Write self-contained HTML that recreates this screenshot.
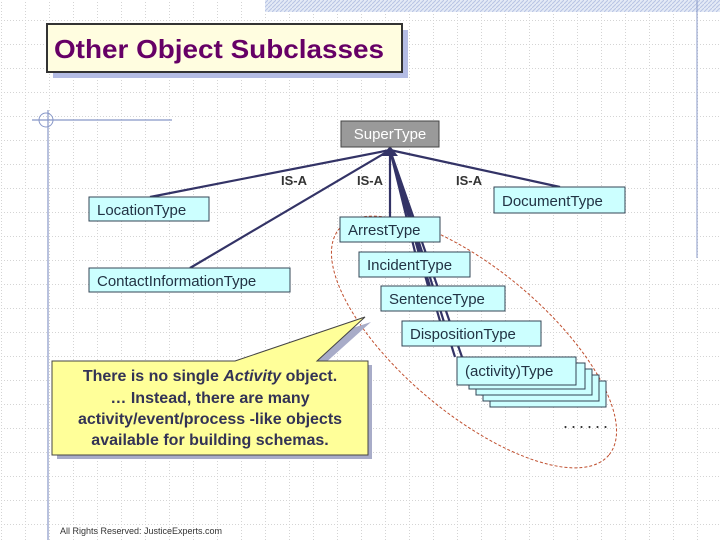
<!DOCTYPE html>
<html><head><meta charset="utf-8"><style>
html,body{margin:0;padding:0;background:#fff}
svg{display:block}
text{font-family:"Liberation Sans",Arial,sans-serif}
</style></head><body>
<svg width="720" height="540" viewBox="0 0 720 540" xmlns="http://www.w3.org/2000/svg">
<defs>
<pattern id="grid" width="24" height="24" patternUnits="userSpaceOnUse" x="1" y="-4">
<path d="M0 0.5H24M0.5 0V24" stroke="#d4d4d4" stroke-width="1" stroke-dasharray="1,2" fill="none"/>
</pattern>
<pattern id="hatch" width="4" height="4" patternUnits="userSpaceOnUse">
<rect width="4" height="4" fill="#e4eaf6"/>
<path d="M0 4L4 0" stroke="#b8c4e4" stroke-width="1"/>
</pattern>
</defs>
<rect width="720" height="540" fill="#fff"/>
<rect width="720" height="540" fill="url(#grid)"/>
<rect x="265" y="0" width="455" height="12" fill="url(#hatch)"/>
<line x1="697" y1="0" x2="697" y2="258" stroke="#8898c8" stroke-width="1"/>
<line x1="32" y1="120" x2="172" y2="120" stroke="#8898c8" stroke-width="1.2"/>
<line x1="48" y1="110" x2="48" y2="540" stroke="#8898c8" stroke-width="1.2"/>
<circle cx="46" cy="120" r="7" fill="none" stroke="#8898c8" stroke-width="1"/>

<rect x="53" y="30" width="355" height="48" fill="#b4bce4"/>
<rect x="47" y="24" width="355" height="48" fill="#fffde0" stroke="#333" stroke-width="2"/>
<text x="54" y="58" font-size="26" font-weight="bold" fill="#660066" textLength="330" lengthAdjust="spacingAndGlyphs">Other Object Subclasses</text>

<ellipse cx="474" cy="342" rx="176" ry="72" transform="rotate(40 474 342)" fill="none" stroke="#c05030" stroke-width="1" stroke-dasharray="3,2"/>

<g stroke="#333366" stroke-width="2.2" fill="none">
<line x1="390" y1="150" x2="150" y2="197"/>
<line x1="390" y1="150" x2="190" y2="268"/>
<line x1="390" y1="150" x2="560" y2="187"/>
<line x1="390" y1="150" x2="390" y2="217"/>
<line x1="390" y1="150" x2="415" y2="252"/>
<line x1="390" y1="150" x2="428" y2="286"/>
<line x1="390" y1="150" x2="440" y2="321"/>
<line x1="390" y1="150" x2="455" y2="357"/>
<line x1="390" y1="150" x2="470" y2="380"/>
</g>
<polygon points="390,146 382,156 398,156" fill="#333366"/>

<rect x="341" y="121" width="98" height="26" fill="#9a9a9a" stroke="#444" stroke-width="1"/>
<text x="390" y="139" font-size="15" fill="#fff" text-anchor="middle">SuperType</text>

<g font-size="13" fill="#333" font-weight="bold">
<text x="281" y="185">IS-A</text>
<text x="357" y="185">IS-A</text>
<text x="456" y="185">IS-A</text>
</g>

<g fill="#ccffff" stroke="#334455" stroke-width="1">
<rect x="89" y="197" width="120" height="24"/>
<rect x="89" y="268" width="201" height="24"/>
<rect x="494" y="187" width="131" height="26"/>
<rect x="340" y="217" width="100" height="25"/>
<rect x="359" y="252" width="111" height="25"/>
<rect x="381" y="286" width="124" height="25"/>
<rect x="402" y="321" width="139" height="25"/>
<rect x="490" y="381" width="116" height="26"/>
<rect x="483" y="375" width="116" height="26"/>
<rect x="476" y="369" width="116" height="26"/>
<rect x="469" y="363" width="116" height="26"/>
<rect x="457" y="357" width="119" height="28"/>
</g>
<g font-size="15" fill="#223344">
<text x="97" y="215">LocationType</text>
<text x="97" y="286">ContactInformationType</text>
<text x="502" y="206">DocumentType</text>
<text x="348" y="235">ArrestType</text>
<text x="367" y="270">IncidentType</text>
<text x="389" y="304">SentenceType</text>
<text x="410" y="339">DispositionType</text>
<text x="465" y="376">(activity)Type</text>
</g>
<text x="563" y="428" font-size="18" fill="#333" letter-spacing="3">......</text>

<polygon points="239,365 371,322 323,365 372,365 372,459 57,459 57,365" fill="#a8acc8"/>
<polygon points="235,361 365,317 317,361 368,361 368,455 52,455 52,361" fill="#ffff99" stroke="#444" stroke-width="1"/>
<g font-size="16" font-weight="bold" fill="#333355" text-anchor="middle">
<text x="210" y="381">There is no single <tspan font-style="italic">Activity</tspan> object.</text>
<text x="210" y="403">…   Instead, there are many</text>
<text x="210" y="424">activity/event/process -like objects</text>
<text x="210" y="445">available for building schemas.</text>
</g>
<text x="60" y="534" font-size="9" fill="#333">All Rights Reserved: JusticeExperts.com</text>
</svg>
</body></html>
